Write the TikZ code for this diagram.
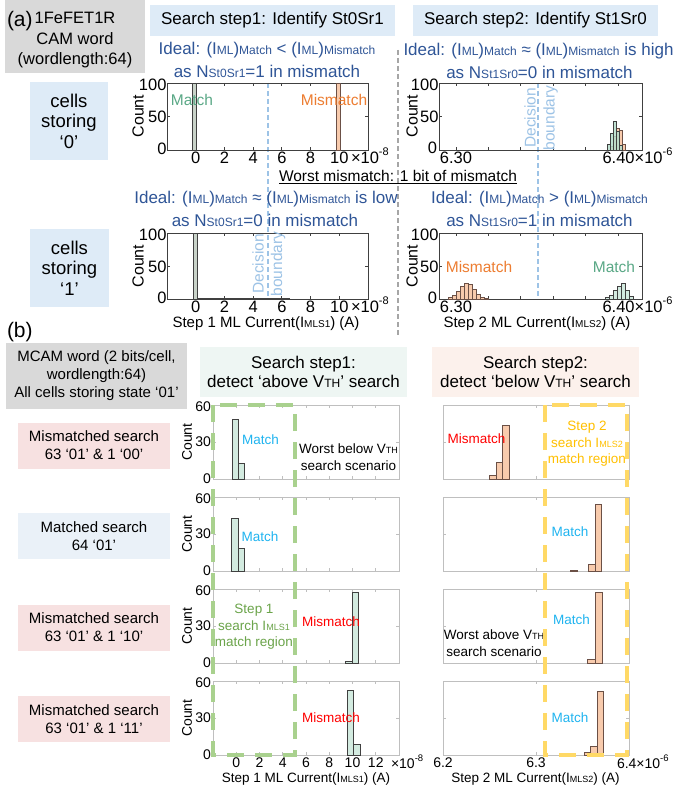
\documentclass[tikz,border=0pt]{standalone}
\usepackage{fontspec}
\setmainfont{Liberation Sans}
\usetikzlibrary{calc}
\definecolor{boxgray}{HTML}{D9D9D9}
\definecolor{boxblue}{HTML}{DEEBF7}
\definecolor{ideal}{HTML}{2F5597}
\definecolor{mgreen}{HTML}{5AA886}
\definecolor{morange}{HTML}{ED7D31}
\definecolor{dbline}{HTML}{9DC3E6}
\definecolor{divgray}{HTML}{A6A6A6}
\definecolor{axdark}{HTML}{404040}
\definecolor{axlight}{HTML}{BFBFBF}
\definecolor{bargreen}{HTML}{D3EBE0}
\definecolor{bargreen2}{HTML}{B5DCCB}
\definecolor{barpeach}{HTML}{F8CBAD}
\definecolor{bargray}{HTML}{C9D3C9}
\definecolor{peachline}{HTML}{6B5046}
\definecolor{boxmint}{HTML}{EEF6F3}
\definecolor{boxpeach}{HTML}{FCF1EC}
\definecolor{boxpink}{HTML}{F7E1E1}
\definecolor{boxpale}{HTML}{EAF1F8}
\definecolor{mcyan}{HTML}{1FB4F0}
\definecolor{mred}{HTML}{FF0000}
\definecolor{lgreen}{HTML}{6BA44A}
\definecolor{dgreen}{HTML}{A9D18E}
\definecolor{lyellow}{HTML}{FFC000}
\definecolor{dyellow}{HTML}{FFD966}
\newcommand\smf[2]{{\fontsize{#1}{#1}\selectfont #2}}
\newcommand\supx[1]{\raisebox{0.5em}{\fontsize{11}{11}\selectfont #1}}
\newcommand\supy[1]{\raisebox{0.5em}{\fontsize{9.5}{10}\selectfont #1}}
\newcommand\hbin[5]{\filldraw[#1] (#2,#3) rectangle (#4,#5);}
\tikzset{
  every node/.style={inner sep=0pt, outer sep=0pt},
  fa/.style={font=\fontsize{16.5}{20}\selectfont},
  fcell/.style={font=\fontsize{18.5}{20.5}\selectfont},
  fstep/.style={font=\fontsize{17}{19}\selectfont},
  fideal/.style={font=\fontsize{17}{20}\selectfont, text=ideal},
  ftick/.style={font=\fontsize{16.5}{20}\selectfont},
  fcnt/.style={font=\fontsize{16}{20}\selectfont, rotate=90},
  fxl/.style={font=\fontsize{15}{18}\selectfont},
  flab/.style={font=\fontsize{15.5}{18}\selectfont},
  fdb/.style={font=\fontsize{15.5}{18}\selectfont, text=dbline, rotate=90},
  ftb/.style={font=\fontsize{14}{16}\selectfont},
  fcb/.style={font=\fontsize{14}{16}\selectfont, rotate=90},
  fxb/.style={font=\fontsize{13.5}{16}\selectfont},
  fmb/.style={font=\fontsize{13.5}{16}\selectfont},
  frow/.style={font=\fontsize{15}{18}\selectfont, align=center, minimum width=152pt, minimum height=46pt},
  axa/.style={draw=axdark, line width=0.9pt},
  axb/.style={draw=axlight, line width=0.9pt},
  dbl/.style={draw=dbline, line width=1.3pt, dash pattern=on 5pt off 3pt},
  divg/.style={draw=divgray, line width=1.3pt, dash pattern=on 5pt off 3pt},
  hgray/.style={fill=bargray, draw=axdark, line width=0.6pt},
  hgreen/.style={fill=bargreen, draw=axdark, line width=0.6pt},
  hgreen2/.style={fill=bargreen2, draw=axdark, line width=0.5pt, fill opacity=0.85},
  hpeach/.style={fill=barpeach, draw=peachline, line width=0.6pt},
  gbox/.style={draw=dgreen, line width=4pt, dash pattern=on 17pt off 11pt},
  ybox/.style={draw=dyellow, line width=4pt, dash pattern=on 17pt off 11pt}
}
\begin{document}
\begin{tikzpicture}[x=1pt,y=-1pt]
\useasboundingbox (0,0) rectangle (673,789);
\fill[white] (0,0) rectangle (673,789);

% ================= (a) =================
\node[fill=boxgray, minimum width=140pt, minimum height=73pt, anchor=north west] (hdra) at (5,0) {};
\node[font=\fontsize{21}{21}\selectfont, anchor=west] (laba) at (7,21) {(a)};
\node[fa] (hdra1) at (75,18) {1FeFET1R};
\node[fa] (hdra2) at (75,39) {CAM word};
\node[fa] (hdra3) at (75,60) {(wordlength:64)};

\node[fill=boxblue, minimum width=245pt, minimum height=31pt, fstep] (s1) at (272.5,20.5) {Search step1: Identify St0Sr1};
\node[fill=boxblue, minimum width=245pt, minimum height=31pt, fstep] (s2) at (535.5,20.5) {Search step2: Identify St1Sr0};

% decision boundaries and divider
\draw[dbl] (268,83) -- (268,299);
\draw[dbl] (538,83) -- (538,299);
\draw[divg] (398,50) -- (398,335);

\node[fideal] (i1a) at (267,50) {Ideal: (I\smf{12}{ML})\smf{12}{Match} < (I\smf{12}{ML})\smf{12}{Mismatch}};
\node[fideal] (i1b) at (267,71) {as N\smf{12}{St0Sr1}=1 in mismatch};
\node[fideal] (i2a) at (538.5,51) {Ideal: (I\smf{12}{ML})\smf{12}{Match} ≈ (I\smf{12}{ML})\smf{12}{Mismatch} is high};
\node[fideal] (i2b) at (539.5,72) {as N\smf{12}{St1Sr0}=0 in mismatch};
\node[fideal] (i3a) at (266,199) {Ideal: (I\smf{12}{ML})\smf{12}{Match} ≈ (I\smf{12}{ML})\smf{12}{Mismatch} is low};
\node[fideal] (i3b) at (265,220) {as N\smf{12}{St0Sr1}=0 in mismatch};
\node[fideal] (i4a) at (539.5,199) {Ideal: (I\smf{12}{ML})\smf{12}{Match} > (I\smf{12}{ML})\smf{12}{Mismatch}};
\node[fideal] (i4b) at (539.5,220) {as N\smf{12}{St1Sr0}=1 in mismatch};

\node[fill=boxblue, minimum width=78pt, minimum height=78pt, fcell, align=center] (c0) at (69,121) {cells\\storing\\‘0’};
\node[fill=boxblue, minimum width=79pt, minimum height=78pt, fcell, align=center] (c1) at (69.5,268) {cells\\storing\\‘1’};

\node[flab] (wm) at (398,176) {Worst mismatch: 1 bit of mismatch};
\draw[line width=0.8pt] ($(wm.south west)+(0,2)$) -- ($(wm.south east)+(0,2)$);

% ---- P1 (top-left)
\draw[axa] (167,83) rectangle (368,150);
\foreach \k in {1,...,6} {\pgfmathsetmacro\xx{167+28.714*\k}
  \draw[axa] (\xx,150) -- (\xx,147) (\xx,83) -- (\xx,86);}
\draw[axa] (167,116.5) -- (170,116.5) (368,116.5) -- (365,116.5);
\hbin{hgray}{192.5}{83}{196.5}{150}
\hbin{hpeach}{336.5}{83}{340}{150}
\node[flab, text=mgreen] (p1m) at (192,100) {Match};
\node[flab, text=morange] (p1mm) at (334,100) {Mismatch};
\foreach \k/\lab in {1/0,2/2,3/4,4/6,5/8,6/10} {
  \node[ftick] (p1t\k) at (167+28.714*\k,158) {\lab};}
\node[ftick, anchor=west] (p1e) at (351,156) {×10\supx{-8}};
\node[ftick, anchor=east] (p1y1) at (166.5,85) {100};
\node[ftick, anchor=east] (p1y2) at (166.5,117) {50};
\node[ftick, anchor=east] (p1y3) at (166.5,149) {0};
\node[fcnt] (p1c) at (138,116) {Count};

% ---- P2 (top-right)
\draw[axa] (439,83) rectangle (642,150);
\foreach \k in {0,...,5} {\pgfmathsetmacro\xx{456+32.4*\k}
  \draw[axa] (\xx,150) -- (\xx,147) (\xx,83) -- (\xx,86);}
\draw[axa] (439,116.5) -- (442,116.5) (642,116.5) -- (639,116.5);
\hbin{hpeach}{610}{146.6}{613}{150}
\hbin{hpeach}{613}{136.6}{616}{150}
\hbin{hpeach}{616}{128}{619}{150}
\hbin{hpeach}{619}{130}{622}{150}
\hbin{hpeach}{622}{144.6}{625}{150}
\hbin{hgreen2}{607}{144.6}{610}{150}
\hbin{hgreen2}{610}{133.2}{613}{150}
\hbin{hgreen2}{613}{121.1}{616}{150}
\hbin{hgreen2}{616}{131}{619}{150}
\hbin{hgreen2}{619}{145}{622}{150}
\node[fdb] (p2d) at (530,118) {Decision};
\node[fdb] (p2b) at (550.5,118) {boundary};
\node[ftick] (p2t1) at (456,158) {6.30};
\node[ftick, anchor=west] (p2t2) at (602.5,156) {6.40×10\supx{-6}};
\node[ftick, anchor=east] (p2y1) at (438.5,85) {100};
\node[ftick, anchor=east] (p2y2) at (438.5,117) {50};
\node[ftick, anchor=east] (p2y3) at (437,148) {0};
\node[fcnt] (p2c) at (412,116) {Count};

% ---- P3 (bottom-left)
\draw[axa] (167,233) rectangle (368,299);
\foreach \k in {1,...,6} {\pgfmathsetmacro\xx{167+28.714*\k}
  \draw[axa] (\xx,299) -- (\xx,296) (\xx,233) -- (\xx,236);}
\draw[axa] (167,266) -- (170,266) (368,266) -- (365,266);
\hbin{hgray}{193}{233}{197}{299}
\draw[axdark, line width=1.2pt] (197,298.5) -- (290,298.5);
\node[fdb] (p3d) at (258,264) {Decision};
\node[fdb] (p3b) at (278,264) {boundary};
\foreach \k/\lab in {1/0,2/2,3/4,4/6,5/8,6/10} {
  \node[ftick] (p3t\k) at (167+28.714*\k,307) {\lab};}
\node[ftick, anchor=west] (p3e) at (351,305) {×10\supx{-8}};
\node[ftick, anchor=east] (p3y1) at (166.5,235) {100};
\node[ftick, anchor=east] (p3y2) at (166.5,267) {50};
\node[ftick, anchor=east] (p3y3) at (166.5,298) {0};
\node[fcnt] (p3c) at (138,266) {Count};
\node[fxl] (p3x) at (266,324) {Step 1 ML Current(I\smf{10}{MLS1}) (A)};

% ---- P4 (bottom-right)
\draw[axa] (439,233) rectangle (642,299);
\foreach \k in {0,...,5} {\pgfmathsetmacro\xx{456+32.4*\k}
  \draw[axa] (\xx,299) -- (\xx,296) (\xx,233) -- (\xx,236);}
\draw[axa] (439,266) -- (442,266) (642,266) -- (639,266);
\foreach \a/\h in {448/297.7,452/295.7,456/291.2,460/286,464/283.4,468/284,472/289.2,476/294.5,480/297,484/298.3} {
  \hbin{hpeach}{\a}{\h}{\a+4}{299}}
\foreach \a/\h in {605/297.7,609/295,613/290.5,617/286,621/283.4,625/290,629/296.4} {
  \hbin{hgreen}{\a}{\h}{\a+4}{299}}
\node[flab, text=morange] (p4mm) at (479,267) {Mismatch};
\node[flab, text=mgreen] (p4m) at (614,267) {Match};
\node[ftick] (p4t1) at (456,307) {6.30};
\node[ftick, anchor=west] (p4t2) at (602.5,305) {6.40×10\supx{-6}};
\node[ftick, anchor=east] (p4y1) at (438.5,235) {100};
\node[ftick, anchor=east] (p4y2) at (438.5,267) {50};
\node[ftick, anchor=east] (p4y3) at (437,298) {0};
\node[fcnt] (p4c) at (412,266) {Count};
\node[fxl] (p4x) at (537,324) {Step 2 ML Current(I\smf{10}{MLS2}) (A)};

% ================= (b) =================
\node[font=\fontsize{21}{21}\selectfont, anchor=west] (labb) at (7,332) {(b)};
\node[fill=boxgray, minimum width=181pt, minimum height=66pt, align=center, font=\fontsize{15}{18}\selectfont] (hdrb) at (96.5,376) {MCAM word (2 bits/cell,\\wordlength:64)\\All cells storing state ‘01’};
\node[fill=boxmint, minimum width=207pt, minimum height=50pt, align=center, fstep] (sb1) at (303.5,372) {Search step1:\\detect ‘above V\smf{12}{TH}’ search};
\node[fill=boxpeach, minimum width=207pt, minimum height=50pt, align=center, fstep] (sb2) at (535.5,372) {Search step2:\\detect ‘below V\smf{12}{TH}’ search};

\node[frow, fill=boxpink] (rl1) at (94,445.5) {Mismatched search\\63 ‘01’ \& 1 ‘00’};
\node[frow, fill=boxpale] (rl2) at (94,536) {Matched search\\64 ‘01’};
\node[frow, fill=boxpink] (rl3) at (94,627.5) {Mismatched search\\63 ‘01’ \& 1 ‘10’};
\node[frow, fill=boxpink] (rl4) at (94,719) {Mismatched search\\63 ‘01’ \& 1 ‘11’};

\foreach \t [count=\i] in {405,497,589,681} {
  \pgfmathsetmacro\bb{\t+74}
  \pgfmathsetmacro\mm{\t+37}
  \draw[axb] (213,\t) rectangle (399,\bb);
  \draw[axb] (443,\t) rectangle (629,\bb);
  \foreach \k in {1,...,7} {\pgfmathsetmacro\xx{213+23.25*\k}
    \draw[axb] (\xx,\bb) -- (\xx,\bb-3) (\xx,\t) -- (\xx,\t+3);}
  \draw[axb] (213,\mm) -- (216,\mm) (399,\mm) -- (396,\mm);
  \draw[axb] (443,\mm) -- (446,\mm) (629,\mm) -- (626,\mm);
  \draw[axb] (536,\bb) -- (536,\bb-3) (536,\t) -- (536,\t+3);
  \node[ftb, anchor=east] (ya\i) at (211,\t+1.5) {60};
  \node[ftb, anchor=east] (yb\i) at (211,\mm) {30};
  \node[ftb, anchor=east] (yc\i) at (211,\bb) {0};
  \node[fcb] (cb\i) at (187,\mm) {Count};
}

% histograms (b)
\hbin{hgreen}{232}{419}{238}{479}
\hbin{hgreen}{238}{463}{244}{479}
\hbin{hgreen}{231}{518}{238}{571}
\hbin{hgreen}{238}{548}{244}{571}
\hbin{hgreen}{345}{661}{352}{663}
\hbin{hgreen}{352}{592}{358}{663}
\hbin{hgreen}{347}{690}{353}{755}
\hbin{hgreen}{353}{744}{360}{755}
\hbin{hpeach}{489}{475}{496}{479}
\hbin{hpeach}{496}{462}{502}{479}
\hbin{hpeach}{502}{425}{509}{479}
\hbin{hpeach}{570}{570}{577}{571}
\hbin{hpeach}{588}{564}{595}{571}
\hbin{hpeach}{595}{504}{601}{571}
\hbin{hpeach}{587}{659}{595}{663}
\hbin{hpeach}{595}{592}{602}{663}
\hbin{hpeach}{584}{752}{590}{755}
\hbin{hpeach}{590}{746}{597}{755}
\hbin{hpeach}{597}{691}{603}{755}

% texts in (b) plots
\node[fmb, text=mcyan] (bm1) at (260.5,440) {Match};
\node[fmb] (bw1a) at (348.5,449) {Worst below V\smf{9}{TH}};
\node[fmb] (bw1b) at (348.5,466) {search scenario};
\node[fmb, text=mred] (bmm1) at (476.5,439) {Mismatch};
\node[fmb, text=mcyan] (bm2) at (260,537) {Match};
\node[fmb, text=mcyan] (bm2r) at (570,532) {Match};
\node[fmb, text=mred] (bmm3) at (331,622) {Mismatch};
\node[fmb, text=mcyan] (bm3r) at (571.5,620) {Match};
\node[fmb] (bw3a) at (494,635) {Worst above V\smf{9}{TH}};
\node[fmb] (bw3b) at (494,652) {search scenario};
\node[fmb, text=mred] (bmm4) at (331,718) {Mismatch};
\node[fmb, text=mcyan] (bm4r) at (570,718) {Match};

% axis tick labels (b)
\foreach \k/\lab in {1/0,2/2,3/4,4/6,5/8,6/10,7/12} {
  \node[ftb] (xb\k) at (213+23.25*\k,763) {\lab};}
\node[ftb, anchor=west] (xbe) at (391,761.5) {×10\supy{-8}};
\node[ftb] (xr1) at (443,763) {6.2};
\node[ftb] (xr2) at (536,763) {6.3};
\node[ftb, anchor=west] (xr3) at (617,761.5) {6.4×10\supy{-6}};
\node[fxb] (xlb1) at (306,779) {Step 1 ML Current(I\smf{9}{MLS1}) (A)};
\node[fxb] (xlb2) at (535.5,779) {Step 2 ML Current(I\smf{9}{MLS2}) (A)};

% dashed match regions
\draw[gbox] (213,405) rectangle (295,755);
\draw[ybox] (545,405) rectangle (627,755);
\node[font=\fontsize{13.5}{16.5}\selectfont, text=lgreen, align=center] (gl) at (254,627) {Step 1\\search I\smf{9}{MLS1}\\match region};
\node[font=\fontsize{13.5}{16.5}\selectfont, text=lyellow, align=center] (yl) at (587,444) {Step 2\\search I\smf{9}{MLS2}\\match region};
\end{tikzpicture}
\end{document}
